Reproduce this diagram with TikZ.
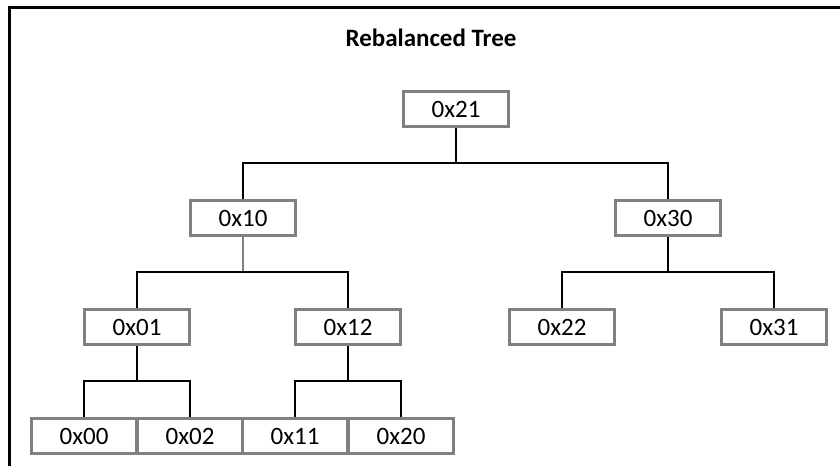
\documentclass[tikz,border=0pt]{standalone}
\usepackage{fontspec}
\setmainfont{Carlito}
\usepackage{tikz}
\usetikzlibrary{positioning}
\definecolor{boxgray}{HTML}{808080}
\tikzset{
  key/.style={shape=rectangle, draw=boxgray, line width=3pt, fill=white,
    minimum width=105pt, minimum height=35pt, inner sep=0pt,
    font=\fontsize{25}{30}\selectfont},
  link/.style={draw=black, line width=1.5pt}
}

\begin{document}
\begin{tikzpicture}[x=1pt, y=-1pt]
    \useasboundingbox (0,0) rectangle (840,466);
    \draw[line width=3pt] (9,466) -- (9,7) -- (840,7);

    \node[font=\bfseries\fontsize{25}{30}\selectfont] (title) at (431,38) {Rebalanced Tree};

    \node[key] (x21) at (456,109) {0x21};

    \node[key] (x10) at (243,218) {0x10};
    \node[key] (x30) at (668,218) {0x30};
    \coordinate (b21) at (456,163);
    \path [link] (x21) -- (b21);
    \path [link] (x10) |- (b21) -| (x30);

    \node[key] (x01) at (137,327) {0x01};
    \node[key] (x12) at (348,327) {0x12};
    \coordinate (b10) at (243,272);
    \path [link, draw=gray] (x10) -- (b10);
    \path [link] (x01) |- (b10) -| (x12);

    \node[key] (x22) at (562,327) {0x22};
    \node[key] (x31) at (774,327) {0x31};
    \coordinate (b30) at (668,272);
    \path [link] (x30) -- (b30);
    \path [link] (x22) |- (b30) -| (x31);

    \node[key] (x00) at (84,436) {0x00};
    \node[key] (x02) at (190,436) {0x02};
    \coordinate (b01) at (137,381);
    \path [link] (x01) -- (b01);
    \path [link] (x00) |- (b01) -| (x02);

    \node[key] (x11) at (295,436) {0x11};
    \node[key] (x20) at (401,436) {0x20};
    \coordinate (b12) at (348,381);
    \path [link] (x12) -- (b12);
    \path [link] (x11) |- (b12) -| (x20);

\end{tikzpicture}
\end{document}
